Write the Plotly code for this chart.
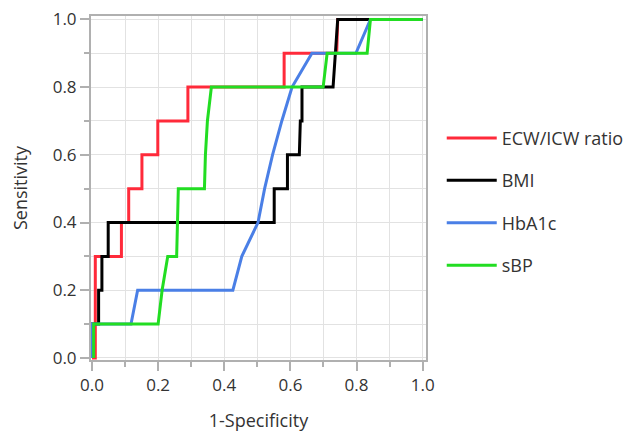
import plotly.graph_objects as go

# ROC curve data (1-Specificity, Sensitivity)
ecw_x = [0, 0.01, 0.01, 0.089, 0.089, 0.111, 0.111, 0.151, 0.151, 0.199, 0.199, 0.29, 0.29, 0.581, 0.581, 0.74, 0.743, 1.0]
ecw_y = [0, 0.0, 0.3, 0.3, 0.4, 0.4, 0.5, 0.5, 0.6, 0.6, 0.7, 0.7, 0.8, 0.8, 0.9, 0.9, 1.0, 1.0]

bmi_x = [0, 0, 0.02, 0.02, 0.03, 0.03, 0.049, 0.049, 0.551, 0.551, 0.591, 0.591, 0.627, 0.63, 0.635, 0.635, 0.729, 0.735, 0.743, 1.0]
bmi_y = [0, 0.1, 0.1, 0.2, 0.2, 0.3, 0.3, 0.4, 0.4, 0.5, 0.5, 0.6, 0.6, 0.7, 0.7, 0.8, 0.8, 0.9, 1.0, 1.0]

hba_x = [0, 0, 0.118, 0.138, 0.426, 0.453, 0.502, 0.522, 0.546, 0.574, 0.605, 0.665, 0.798, 0.842, 1.0]
hba_y = [0, 0.1, 0.1, 0.2, 0.2, 0.3, 0.4, 0.5, 0.6, 0.7, 0.8, 0.9, 0.9, 1.0, 1.0]

sbp_x = [0.005, 0.005, 0.2, 0.212, 0.229, 0.256, 0.261, 0.34, 0.343, 0.349, 0.361, 0.699, 0.711, 0.832, 0.842, 1.0]
sbp_y = [0, 0.1, 0.1, 0.2, 0.3, 0.3, 0.5, 0.5, 0.6, 0.7, 0.8, 0.8, 0.9, 0.9, 1.0, 1.0]

names = ["ECW/ICW ratio", "BMI", "HbA1c", "sBP"]
colors = ["#ff2a3a", "#000000", "#4a7fe6", "#22dd22"]
tick_vals = [0, 0.2, 0.4, 0.6, 0.8, 1.0]
tick_text = ["0.0", "0.2", "0.4", "0.6", "0.8", "1.0"]

fig = go.Figure()
for nm, xs, ys, c in zip(names, [ecw_x, bmi_x, hba_x, sbp_x], [ecw_y, bmi_y, hba_y, sbp_y], colors):
    fig.add_trace(go.Scatter(x=xs, y=ys, mode="lines", name=nm, legendgroup=nm,
                             line=dict(color=c, width=3)))

axis_common = dict(
    automargin=False,
    ticklabeloverflow="allow",
    showgrid=True, gridcolor="#e2e2e2", gridwidth=1,
    showline=True, linecolor="#b0b0b0", linewidth=2, mirror=True,
    ticks="outside", ticklen=9, tickcolor="#b0b0b0", tickwidth=2,
    tickvals=tick_vals, ticktext=tick_text,
    tickfont=dict(size=17, color="#333333"),
    zeroline=False,
    minor=dict(dtick=0.1, tick0=0, showgrid=True, gridcolor="#e2e2e2", ticks="outside", ticklen=5, tickcolor="#b0b0b0", tickwidth=2),
)

fig.update_xaxes(range=[-0.003, 1.01], title=dict(text="1-Specificity", font=dict(size=18, color="#333333"), standoff=19), **axis_common)
fig.update_yaxes(range=[-0.006, 1.01], title=dict(text="Sensitivity", font=dict(size=18, color="#333333"), standoff=21), **axis_common)

fig.update_layout(
    width=629, height=427,
    margin=dict(l=83, r=204, t=8, b=75),
    plot_bgcolor="white", paper_bgcolor="white",
    font=dict(family="Open Sans", color="#333333"),
    legend=dict(x=1.047, y=0.46, xanchor="left", yanchor="middle",
                font=dict(size=18, color="#333333"), itemwidth=50,
                tracegroupgap=16, bgcolor="rgba(0,0,0,0)"),
)

fig.write_html("out.html")
